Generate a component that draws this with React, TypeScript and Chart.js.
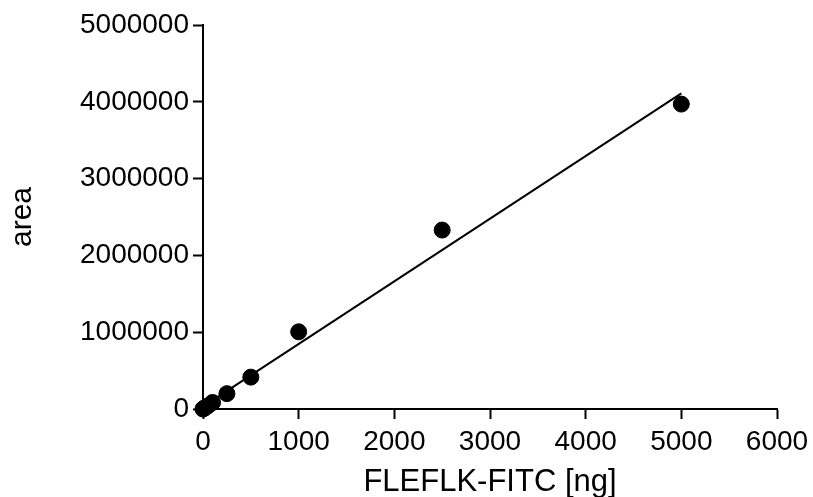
import React, { useEffect, useRef } from "react";
import { Chart, registerables } from "chart.js";

Chart.register(...registerables);

const amounts = [0, 10, 25, 50, 100, 250, 500, 1000, 2500, 5000];
const areas = [0, 8000, 20000, 40000, 85000, 200000, 415000, 1005000, 2330000, 3970000];
const fitX = [0, 5000];
const fitY = [30000, 4110000];
const xTicks = [0, 1000, 2000, 3000, 4000, 5000, 6000];
const yTicks = [0, 1000000, 2000000, 3000000, 4000000, 5000000];

const FONT = 'Arial, "Liberation Sans", sans-serif';

export default function App() {
  const ref = useRef<HTMLCanvasElement | null>(null);

  useEffect(() => {
    if (!ref.current) return;
    const chart = new Chart(ref.current, {
      type: "scatter",
      data: {
        datasets: [
          {
            type: "line",
            data: fitX.map((x, i) => ({ x, y: fitY[i] })),
            borderColor: "#000",
            borderWidth: 2,
            pointRadius: 0,
            fill: false,
            clip: false as any,
          },
          {
            type: "scatter",
            data: amounts.map((x, i) => ({ x, y: areas[i] })),
            backgroundColor: "#000",
            borderColor: "#000",
            pointRadius: 8,
            pointHoverRadius: 8,
            clip: false as any,
          },
        ],
      },
      options: {
        responsive: false,
        animation: false,
        layout: { padding: { top: 25, right: 36, left: 0, bottom: 0 } },
        plugins: { legend: { display: false }, tooltip: { enabled: false } },
        scales: {
          x: {
            type: "linear",
            min: 0,
            max: 6000,
            afterBuildTicks: (s: any) => {
              s.ticks = xTicks.map((v) => ({ value: v }));
            },
            afterFit: (s: any) => {
              s.height = 88;
              s.paddingRight = 0;
              s.paddingLeft = 0;
            },
            grid: {
              display: true,
              drawOnChartArea: false,
              drawTicks: true,
              tickLength: 10,
              tickWidth: 2,
              color: "#000",
            },
            border: { display: true, color: "#000", width: 2 },
            ticks: {
              color: "#000",
              font: { family: FONT, size: 28 },
              padding: 6,
              maxRotation: 0,
              callback: (v: any) => String(v),
            },
            title: {
              display: true,
              text: "FLEFLK-FITC [ng]",
              color: "#000",
              font: { family: FONT, size: 31, lineHeight: 0.95 },
              padding: { top: 0, bottom: 0 },
            },
          },
          y: {
            type: "linear",
            min: 0,
            max: 5000000,
            afterBuildTicks: (s: any) => {
              s.ticks = yTicks.map((v) => ({ value: v }));
            },
            afterFit: (s: any) => {
              s.width = 203;
            },
            grid: {
              display: true,
              drawOnChartArea: false,
              drawTicks: true,
              tickLength: 10,
              tickWidth: 2,
              color: "#000",
            },
            border: { display: true, color: "#000", width: 2 },
            ticks: {
              color: "#000",
              font: { family: FONT, size: 28 },
              padding: 4,
              callback: (v: any) => String(v),
            },
            title: {
              display: true,
              text: "area",
              color: "#000",
              font: { family: FONT, size: 30 },
              padding: { top: 5, bottom: 0 },
            },
          },
        },
      },
    });
    return () => chart.destroy();
  }, []);

  return (
    <div style={{ position: "fixed", left: 0, top: 0, width: 813, height: 497, background: "#fff" }}>
      <canvas ref={ref} width={813} height={497} style={{ width: 813, height: 497 }} />
    </div>
  );
}
